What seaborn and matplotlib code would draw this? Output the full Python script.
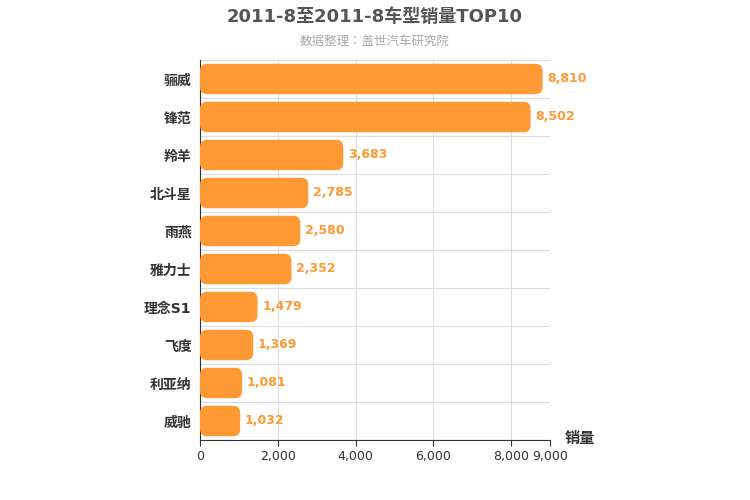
import matplotlib
matplotlib.use("Agg")
import matplotlib.pyplot as plt
import seaborn as sns
import pandas as pd
from matplotlib.patches import FancyBboxPatch

categories = ["骊威", "锋范", "羚羊", "北斗星", "雨燕", "雅力士", "理念S1", "飞度", "利亚纳", "威驰"]
sales = [8810, 8502, 3683, 2785, 2580, 2352, 1479, 1369, 1081, 1032]
xticks = [0, 2000, 4000, 6000, 8000, 9000]

plt.rcParams["font.family"] = ["DejaVu Sans", "Noto Sans CJK SC", "Noto Sans CJK JP", "Noto Sans CJK TC"]
df = pd.DataFrame({"车型": categories, "销量": sales})
fig = plt.figure(figsize=(7.5, 5), dpi=100)
ax = fig.add_axes([200/750, 60/500, 350/750, 380/500])
sns.barplot(data=df, y="车型", x="销量", color="#FF9933", width=0.8, ax=ax, saturation=1)
ax.set_xlim(0, 9000)
ax.set_ylim(9.5, -0.5)
xpp = 9000/350; ypp = 10/380
for p in list(ax.patches):
    x, y, w, h = p.get_x(), p.get_y(), p.get_width(), p.get_height()
    p.remove()
    ax.add_patch(FancyBboxPatch((x, y), w, h, boxstyle="round,pad=0,rounding_size=%f" % (7*xpp),
                                mutation_aspect=ypp/xpp, fc="#FF9933", ec="none", zorder=3))
for i, v in enumerate(sales):
    ax.text(v + 120, i, f"{v:,}", va="center", ha="left", color="#FF9933", fontsize=9, fontweight="bold", zorder=4)
ax.set_xticks(xticks)
ax.set_xticklabels([f"{t:,}" for t in xticks], fontsize=9, color="#333333")
ax.set_yticks(range(10))
ax.set_yticklabels(categories, fontsize=10, fontweight="bold", color="#333333")
for yl in [i + 0.5 for i in range(-1, 10)]:
    ax.axhline(yl, color="#dddddd", lw=0.8, zorder=0)
for xt in xticks:
    ax.axvline(xt, color="#dddddd", lw=0.8, zorder=0)
ax.set_xlabel(""); ax.set_ylabel("")
for s in ["top", "right"]:
    ax.spines[s].set_visible(False)
ax.spines["left"].set_color("#333333"); ax.spines["bottom"].set_color("#333333")
ax.tick_params(axis="y", length=0, pad=6)
ax.tick_params(axis="x", length=4, color="#333333")
fig.text(580/750, 1-438/500, "销量", fontsize=11, fontweight="bold", color="#333333", ha="center", va="center")
fig.text(0.5, 1-17/500, "2011-8至2011-8车型销量TOP10", fontsize=13, fontweight="bold", color="#555555", ha="center", va="center")
fig.text(0.5, 1-41/500, "数据整理：盖世汽车研究院", fontsize=9, color="#aaaaaa", ha="center", va="center")
fig.savefig("out.png", dpi=100)
